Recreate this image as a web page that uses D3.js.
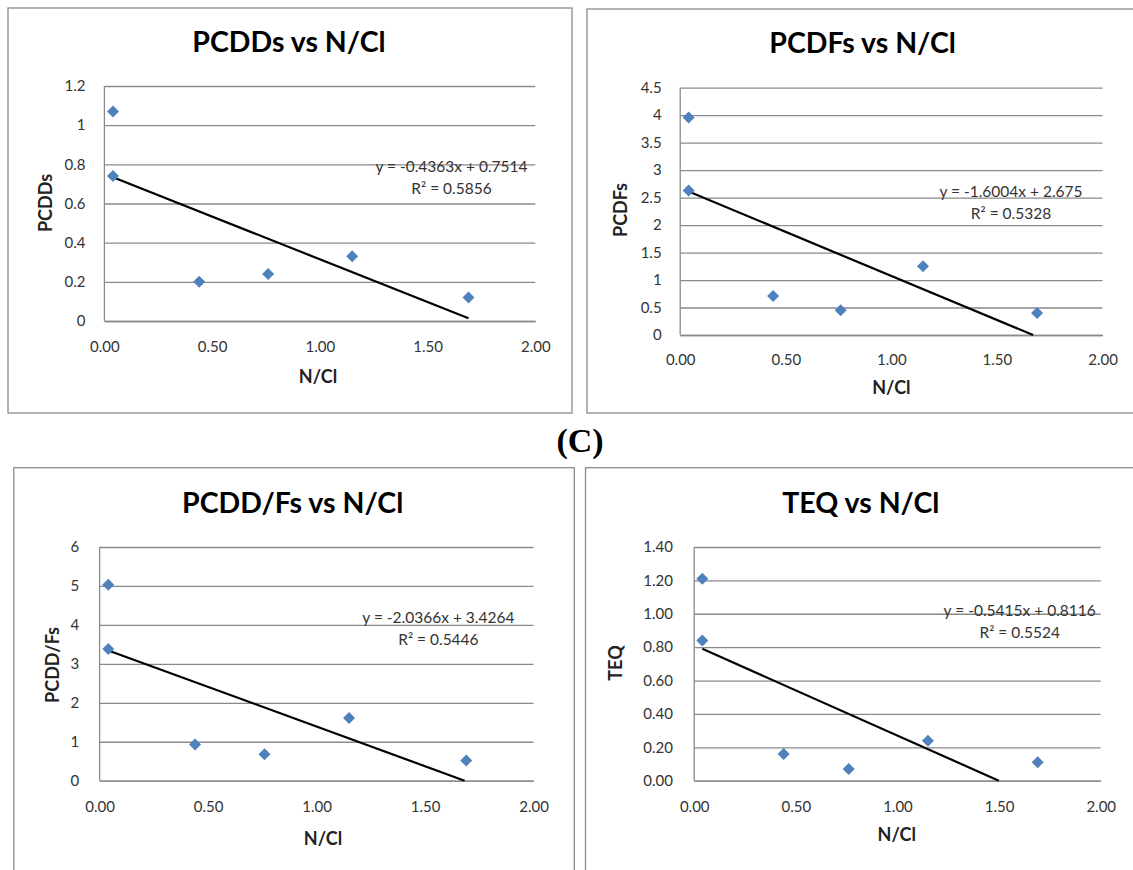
<!DOCTYPE html>
<html>
<head>
<meta charset="utf-8">
<script src="https://cdn.jsdelivr.net/npm/d3@7"></script>
<style>
  html, body { margin: 0; padding: 0; background: #ffffff; }
  svg { display: block; }
</style>
</head>
<body>
<svg id="chart" width="1133" height="870"></svg>
<script>
// ---------------- DATA ----------------
const nCl      = [0.04, 0.04, 0.44, 0.76, 1.15, 1.69];
const pcdds    = [1.07, 0.74, 0.20, 0.24, 0.33, 0.12];
const pcdfs    = [3.96, 2.63, 0.71, 0.45, 1.25, 0.40];
const pcddfs   = [5.03, 3.38, 0.93, 0.68, 1.61, 0.52];
const teq      = [1.21, 0.84, 0.16, 0.07, 0.24, 0.11];

const titles   = ["PCDDs vs N/Cl", "PCDFs vs N/Cl", "PCDD/Fs vs N/Cl", "TEQ vs N/Cl"];
const yLabels  = ["PCDDs", "PCDFs", "PCDD/Fs", "TEQ"];
const xLabel   = "N/Cl";
const slopes     = [-0.4363, -1.6004, -2.0366, -0.5415];
const intercepts = [0.7514, 2.675, 3.4264, 0.8116];
const rSquared   = ["0.5856", "0.5328", "0.5446", "0.5524"];
const eqTexts    = ["y = -0.4363x + 0.7514", "y = -1.6004x + 2.675", "y = -2.0366x + 3.4264", "y = -0.5415x + 0.8116"];

const xTicks   = [0, 0.5, 1, 1.5, 2];
const yTicks1  = [0, 0.2, 0.4, 0.6, 0.8, 1, 1.2];
const yTicks2  = [0, 0.5, 1, 1.5, 2, 2.5, 3, 3.5, 4, 4.5];
const yTicks3  = [0, 1, 2, 3, 4, 5, 6];
const yTicks4  = [0, 0.2, 0.4, 0.6, 0.8, 1.0, 1.2, 1.4];
const panelLetter = "(C)";

// ---------------- LAYOUT ----------------
const panels = [
  { ys: pcdds,  yTicks: yTicks1, yMax: 1.2, fmt: d => String(+d.toFixed(1)),
    border: [8, 8, 564, 405], plot: [104.4, 535.3, 86, 321],
    title: [289, 52], yTickPad: 19, xTickY: 347, xLab: [318, 377], yLab: [45.5, 203], eq: [451.5, 167, 189] },
  { ys: pcdfs,  yTicks: yTicks2, yMax: 4.5, fmt: d => String(+d.toFixed(1)),
    border: [587, 9, 600, 404], plot: [680.2, 1102.5, 87.7, 335],
    title: [862.6, 53], yTickPad: 18.6, xTickY: 360, xLab: [891.4, 388], yLab: [620.3, 210], eq: [1011, 191.7, 213.3] },
  { ys: pcddfs, yTicks: yTicks3, yMax: 6, fmt: d => String(d),
    border: [13.8, 467.7, 560.5, 450], plot: [99.6, 533.5, 547, 780.7],
    title: [292.7, 513], yTickPad: 20.3, xTickY: 806.7, xLab: [323, 839], yLab: [52.7, 665], eq: [438.4, 617.7, 639.3] },
  { ys: teq,    yTicks: yTicks4, yMax: 1.4, fmt: d3.format(".2f"),
    border: [585.5, 467.7, 600, 450], plot: [694.2, 1100.7, 547, 780.7],
    title: [860.8, 513], yTickPad: 21.2, xTickY: 806.7, xLab: [896.8, 835], yLab: [616, 663], eq: [1019.7, 610.7, 632.3] }
];

const FONT = "Lato, 'Open Sans', sans-serif";
const GRID = "#8a8a8a";
const MARK = "#4f81bd";

const svg = d3.select("#chart");
svg.append("rect").attr("width", 1133).attr("height", 870).attr("fill", "#fff");

panels.forEach((p, i) => {
  const g = svg.append("g");
  const [bx, by, bw, bh] = p.border;
  g.append("rect").attr("x", bx).attr("y", by).attr("width", bw).attr("height", bh)
    .attr("fill", "none").attr("stroke", "#8c8c8c").attr("stroke-width", 1.3);

  const [x0, x1, yTop, yBot] = p.plot;
  const x = d3.scaleLinear().domain([0, 2]).range([x0, x1]);
  const y = d3.scaleLinear().domain([0, p.yMax]).range([yBot, yTop]);

  // y axis with gridlines
  const ya = g.append("g").attr("transform", `translate(${x0},0)`)
    .call(d3.axisLeft(y).tickValues(p.yTicks).tickFormat(p.fmt)
      .tickSize(-(x1 - x0)).tickPadding(p.yTickPad));
  ya.select(".domain").remove();
  ya.selectAll(".tick line").attr("stroke", GRID).attr("stroke-width", 1.3);
  ya.selectAll(".tick text").attr("font-family", FONT).attr("font-size", 15)
    .attr("fill", "#333").attr("x", -p.yTickPad);

  // left axis line
  g.append("line").attr("x1", x0).attr("x2", x0).attr("y1", yTop).attr("y2", yBot)
    .attr("stroke", GRID).attr("stroke-width", 1.3);

  // x axis
  const xa = g.append("g").attr("transform", `translate(0,${yBot})`)
    .call(d3.axisBottom(x).tickValues(xTicks).tickFormat(d3.format(".2f")).tickSize(0).tickPadding(0));
  xa.select(".domain").attr("stroke", GRID).attr("stroke-width", 1.3);
  xa.selectAll(".tick text").attr("font-family", FONT).attr("font-size", 15)
    .attr("fill", "#333").attr("y", p.xTickY - yBot).attr("dy", "0.35em");

  // trendline
  const xs = nCl;
  const xStart = d3.min(xs);
  const xRoot = -intercepts[i] / slopes[i];
  const xEnd = Math.min(d3.max(xs), xRoot);
  g.append("line")
    .attr("x1", x(xStart)).attr("y1", y(slopes[i] * xStart + intercepts[i]))
    .attr("x2", x(xEnd)).attr("y2", y(slopes[i] * xEnd + intercepts[i]))
    .attr("stroke", "#000").attr("stroke-width", 2.2);

  // markers
  const sym = d3.symbol().type(d3.symbolSquare).size(72);
  g.selectAll("path.pt").data(d3.zip(xs, p.ys)).join("path")
    .attr("class", "pt").attr("d", sym)
    .attr("transform", d => `translate(${x(d[0])},${y(d[1])}) rotate(45)`)
    .attr("fill", MARK);

  // equation
  g.append("text").attr("x", p.eq[0]).attr("y", p.eq[1]).attr("dy", "0.35em")
    .attr("text-anchor", "middle").attr("font-family", FONT).attr("font-size", 15.5)
    .attr("fill", "#333").text(eqTexts[i]);
  g.append("text").attr("x", p.eq[0]).attr("y", p.eq[2]).attr("dy", "0.35em")
    .attr("text-anchor", "middle").attr("font-family", FONT).attr("font-size", 15.5)
    .attr("fill", "#333").text("R² = " + rSquared[i]);

  // title
  g.append("text").attr("x", p.title[0]).attr("y", p.title[1])
    .attr("text-anchor", "middle").attr("font-family", FONT).attr("font-weight", "bold")
    .attr("font-size", 28.5).attr("fill", "#000").text(titles[i]);

  // axis titles
  g.append("text").attr("x", p.xLab[0]).attr("y", p.xLab[1]).attr("dy", "0.35em")
    .attr("text-anchor", "middle").attr("font-family", FONT).attr("font-weight", "bold")
    .attr("font-size", 18).attr("fill", "#222").text(xLabel);
  g.append("text").attr("transform", `translate(${p.yLab[0]},${p.yLab[1]}) rotate(-90)`)
    .attr("dy", "0.35em").attr("text-anchor", "middle").attr("font-family", FONT)
    .attr("font-weight", "bold").attr("font-size", 18).attr("fill", "#222").text(yLabels[i]);
});

// panel letter
svg.append("text").attr("x", 580).attr("y", 452).attr("text-anchor", "middle")
  .attr("font-family", "'Liberation Serif', 'Times New Roman', serif").attr("font-weight", "bold")
  .attr("font-size", 34).attr("fill", "#000").text(panelLetter);
</script>
</body>
</html>
